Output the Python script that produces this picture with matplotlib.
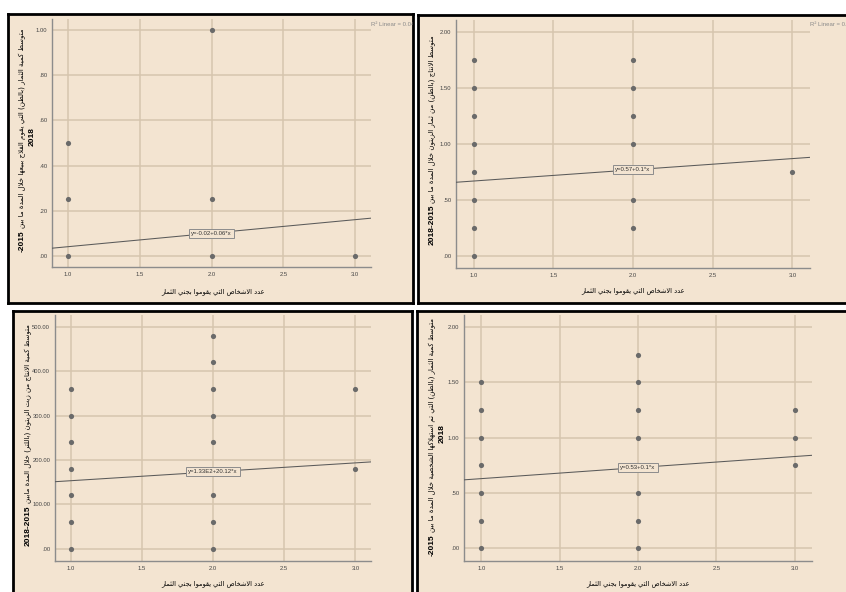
import re
import matplotlib
matplotlib.use("Agg")
import matplotlib.pyplot as plt
import numpy as np

# ---------------------------------------------------------------- data
x_ticks = [1.0, 1.5, 2.0, 2.5, 3.0]
x_tick_labels = ["1.0", "1.5", "2.0", "2.5", "3.0"]

# panel 1: fruit quantity sold (tons)
p1_x = [1, 1, 1, 2, 2, 2, 3]
p1_y = [0.50, 0.25, 0.00, 1.00, 0.25, 0.00, 0.00]
p1_yticks = [0.0, 0.2, 0.4, 0.6, 0.8, 1.0]
p1_ytick_labels = [".00", ".20", ".40", ".60", ".80", "1.00"]
p1_fit = (-0.02, 0.06)
p1_fit_label = "y=-0.02+0.06*x"
p1_r2 = "R² Linear = 0.040"

# panel 2: olive production (tons)
p2_x = [1, 1, 1, 1, 1, 1, 1, 1, 2, 2, 2, 2, 2, 2, 3]
p2_y = [1.75, 1.50, 1.25, 1.00, 0.75, 0.50, 0.25, 0.00,
        1.75, 1.50, 1.25, 1.00, 0.50, 0.25, 0.75]
p2_yticks = [0.0, 0.5, 1.0, 1.5, 2.0]
p2_ytick_labels = [".00", ".50", "1.00", "1.50", "2.00"]
p2_fit = (0.57, 0.10)
p2_fit_label = "y=0.57+0.1*x"
p2_r2 = "R² Linear = 0.013"

# panel 3: olive oil production (litres)
p3_x = [1, 1, 1, 1, 1, 1, 1, 2, 2, 2, 2, 2, 2, 2, 2, 3, 3]
p3_y = [360, 300, 240, 180, 120, 60, 0,
        480, 420, 360, 300, 240, 120, 60, 0, 360, 180]
p3_yticks = [0, 100, 200, 300, 400, 500]
p3_ytick_labels = [".00", "100.00", "200.00", "300.00", "400.00", "500.00"]
p3_fit = (133.0, 20.12)
p3_fit_label = "y=1.33E2+20.12*x"
p3_r2 = "R² Linear = 0.017"

# panel 4: fruit kept for own consumption (tons)
p4_x = [1, 1, 1, 1, 1, 1, 1, 2, 2, 2, 2, 2, 2, 2, 3, 3, 3]
p4_y = [1.50, 1.25, 1.00, 0.75, 0.50, 0.25, 0.00,
        1.75, 1.50, 1.25, 1.00, 0.50, 0.25, 0.00, 1.25, 1.00, 0.75]
p4_yticks = [0.0, 0.5, 1.0, 1.5, 2.0]
p4_ytick_labels = [".00", ".50", "1.00", "1.50", "2.00"]
p4_fit = (0.53, 0.10)
p4_fit_label = "y=0.53+0.1*x"
p4_r2 = "R² Linear = 0.021"

x_title = "عدد الاشخاص التي يقوموا بجني الثمار"
y_titles = [
    ("متوسط كمية الثمار (بالطن) التي يقوم الفلاح ببيعها خلال المدة ما بين", "-2015", "2018"),
    ("متوسط الانتاج (بالطن) من ثمار الزيتون خلال المدة ما بين", "2018-2015", None),
    ("متوسط كمية الانتاج من زيت الزيتون (باللتر) خلال المدة مابين", "2018-2015", None),
    ("متوسط كمية الثمار (بالطن) التي تم استهلاكها الشخصية خلال المدة ما بين", "-2015", "2018"),
]

# ---------------------------------------------------------------- arabic shaping
DUAL = {0x0626: 0xFE89, 0x0628: 0xFE8F, 0x062A: 0xFE95, 0x062B: 0xFE99,
        0x062C: 0xFE9D, 0x062D: 0xFEA1, 0x062E: 0xFEA5, 0x0633: 0xFEB1,
        0x0634: 0xFEB5, 0x0635: 0xFEB9, 0x0636: 0xFEBD, 0x0637: 0xFEC1,
        0x0638: 0xFEC5, 0x0639: 0xFEC9, 0x063A: 0xFECD, 0x0641: 0xFED1,
        0x0642: 0xFED5, 0x0643: 0xFED9, 0x0644: 0xFEDD, 0x0645: 0xFEE1,
        0x0646: 0xFEE5, 0x0647: 0xFEE9, 0x064A: 0xFEF1}
RIGHT = {0x0622: 0xFE81, 0x0623: 0xFE83, 0x0624: 0xFE85, 0x0625: 0xFE87,
         0x0627: 0xFE8D, 0x0629: 0xFE93, 0x062F: 0xFEA9, 0x0630: 0xFEAB,
         0x0631: 0xFEAD, 0x0632: 0xFEAF, 0x0648: 0xFEED, 0x0649: 0xFEEF}
LAM_ALEF = {0x0622: 0xFEF5, 0x0623: 0xFEF7, 0x0625: 0xFEF9, 0x0627: 0xFEFB}


def shape(text):
    out = []
    i, n = 0, len(text)
    while i < n:
        o = ord(text[i])
        prev_links = i > 0 and ord(text[i - 1]) in DUAL
        if o == 0x0644 and i + 1 < n and ord(text[i + 1]) in LAM_ALEF:
            out.append(chr(LAM_ALEF[ord(text[i + 1])] + (1 if prev_links else 0)))
            i += 2
            continue
        if o in DUAL or o in RIGHT:
            nxt = ord(text[i + 1]) if i + 1 < n else 0
            next_links = o in DUAL and (nxt in DUAL or nxt in RIGHT)
            base = DUAL.get(o, RIGHT.get(o))
            if prev_links and next_links:
                form = 3
            elif prev_links:
                form = 1
            elif next_links:
                form = 2
            else:
                form = 0
            out.append(chr(base + form))
        else:
            out.append(text[i])
        i += 1
    return "".join(out)


def visual(text):
    s = shape(text)[::-1].translate(str.maketrans("()", ")("))
    return re.sub(r"[0-9][0-9.,]*[0-9]|[0-9]", lambda m: m.group(0)[::-1], s)


# ---------------------------------------------------------------- layout
W, H = 846, 592
BG = "#f3e4d1"
GRID = "#d6c5ae"
DOT = "#6a6a6a"

fig = plt.figure(figsize=(W / 100, H / 100), dpi=100, facecolor="white")


def frac_rect(l, t, r, b):
    return [l / W, 1 - b / H, (r - l) / W, (b - t) / H]


def fx(x):
    return x / W


def fy(y):
    return 1 - y / H


panels = [
    dict(frame=(8, 14, 413, 303), axes=(52, 19, 371, 267), ylim=(-0.05, 1.05),
         x=p1_x, y=p1_y, yt=p1_yticks, ytl=p1_ytick_labels, fit=p1_fit,
         fit_label=p1_fit_label, r2=p1_r2, ylab_x=22, ylab_y=140, xlab=(213, 292)),
    dict(frame=(418, 15, 850, 303), axes=(456, 20, 810, 268), ylim=(-0.105, 2.105),
         x=p2_x, y=p2_y, yt=p2_yticks, ytl=p2_ytick_labels, fit=p2_fit,
         fit_label=p2_fit_label, r2=p2_r2, ylab_x=432, ylab_y=140, xlab=(633, 291)),
    dict(frame=(13, 311, 412, 596), axes=(55, 315, 371, 561), ylim=(-28, 527),
         x=p3_x, y=p3_y, yt=p3_yticks, ytl=p3_ytick_labels, fit=p3_fit,
         fit_label=p3_fit_label, r2=p3_r2, ylab_x=28, ylab_y=435, xlab=(213, 584)),
    dict(frame=(417, 311, 850, 596), axes=(464, 315, 812, 561), ylim=(-0.115, 2.11),
         x=p4_x, y=p4_y, yt=p4_yticks, ytl=p4_ytick_labels, fit=p4_fit,
         fit_label=p4_fit_label, r2=p4_r2, ylab_x=432, ylab_y=437, xlab=(638, 584)),
]

renderer = fig.canvas.get_renderer()

for p, (ar_title, num1, num2) in zip(panels, y_titles):
    # beige card with a heavy black frame
    bg = fig.add_axes(frac_rect(*p["frame"]))
    bg.set_facecolor(BG)
    bg.set_xticks([])
    bg.set_yticks([])
    bg.set_xlim(0, 1)
    bg.set_ylim(0, 1)
    for s in bg.spines.values():
        s.set_linewidth(2.0)
        s.set_color("black")

    fl, ft, fr, fb = p["frame"]
    al, at, ar, ab = p["axes"]
    # legend entry for the fit line, clipped by the frame
    bg.text((ar - fl) / (fr - fl), 1 - (24 - ft) / (fb - ft), p["r2"],
            fontsize=4.3, color="#8a8a8a", ha="left", va="center", clip_on=True,
            family="Liberation Sans")

    ax = fig.add_axes(frac_rect(al, at, ar, ab))
    ax.set_facecolor("none")
    ax.set_xlim(0.89, 3.11)
    ax.set_ylim(*p["ylim"])
    ax.set_xticks(x_ticks)
    ax.set_xticklabels(x_tick_labels, family="Liberation Sans")
    ax.set_yticks(p["yt"])
    ax.set_yticklabels(p["ytl"], family="Liberation Sans")
    ax.tick_params(length=0, labelsize=4.2, labelcolor="#444444", pad=3.5)
    ax.grid(True, color=GRID, linewidth=1.1)
    ax.set_axisbelow(True)
    for side in ("top", "right"):
        ax.spines[side].set_visible(False)
    for side in ("left", "bottom"):
        ax.spines[side].set_color("#8c8c8c")
        ax.spines[side].set_linewidth(1.0)

    ax.scatter(p["x"], p["y"], s=14, color=DOT, zorder=3, linewidths=0)

    b0, b1 = p["fit"]
    xs = np.array(ax.get_xlim())
    ax.plot(xs, b0 + b1 * xs, color="#5a5a5a", linewidth=0.75, zorder=4)
    ax.text(2.0, b0 + b1 * 2.0, p["fit_label"], fontsize=4.3, color="#333333",
            ha="center", va="center", zorder=5, family="Liberation Sans",
            bbox=dict(boxstyle="square,pad=0.35", facecolor=BG,
                      edgecolor="#8c8c8c", linewidth=0.7))

    # x-axis title
    fig.text(fx(p["xlab"][0]), fy(p["xlab"][1]), visual(x_title),
             fontsize=4.8, ha="center", va="center", family="DejaVu Sans")

    # y-axis title: arabic text with bold year range at its start
    t_num = fig.text(fx(p["ylab_x"]), 0.5, num1, rotation=90, ha="center",
                     va="bottom", fontsize=6, fontweight="bold",
                     family="Liberation Sans")
    t_ar = fig.text(fx(p["ylab_x"]), 0.5, visual(ar_title), rotation=90,
                    ha="center", va="bottom", fontsize=5.0,
                    family="DejaVu Sans")
    h_num = t_num.get_window_extent(renderer).height
    h_ar = t_ar.get_window_extent(renderer).height
    gap = 2
    bottom = p["ylab_y"] + (h_num + gap + h_ar) / 2
    t_num.set_y(fy(bottom))
    t_ar.set_y(fy(bottom - h_num - gap))
    if num2:
        fig.text(fx(p["ylab_x"] + 10), fy(p["ylab_y"] - 3), num2, rotation=90,
                 ha="center", va="center", fontsize=6, fontweight="bold",
                 family="Liberation Sans")

fig.savefig("out.png", dpi=100, facecolor="white")
